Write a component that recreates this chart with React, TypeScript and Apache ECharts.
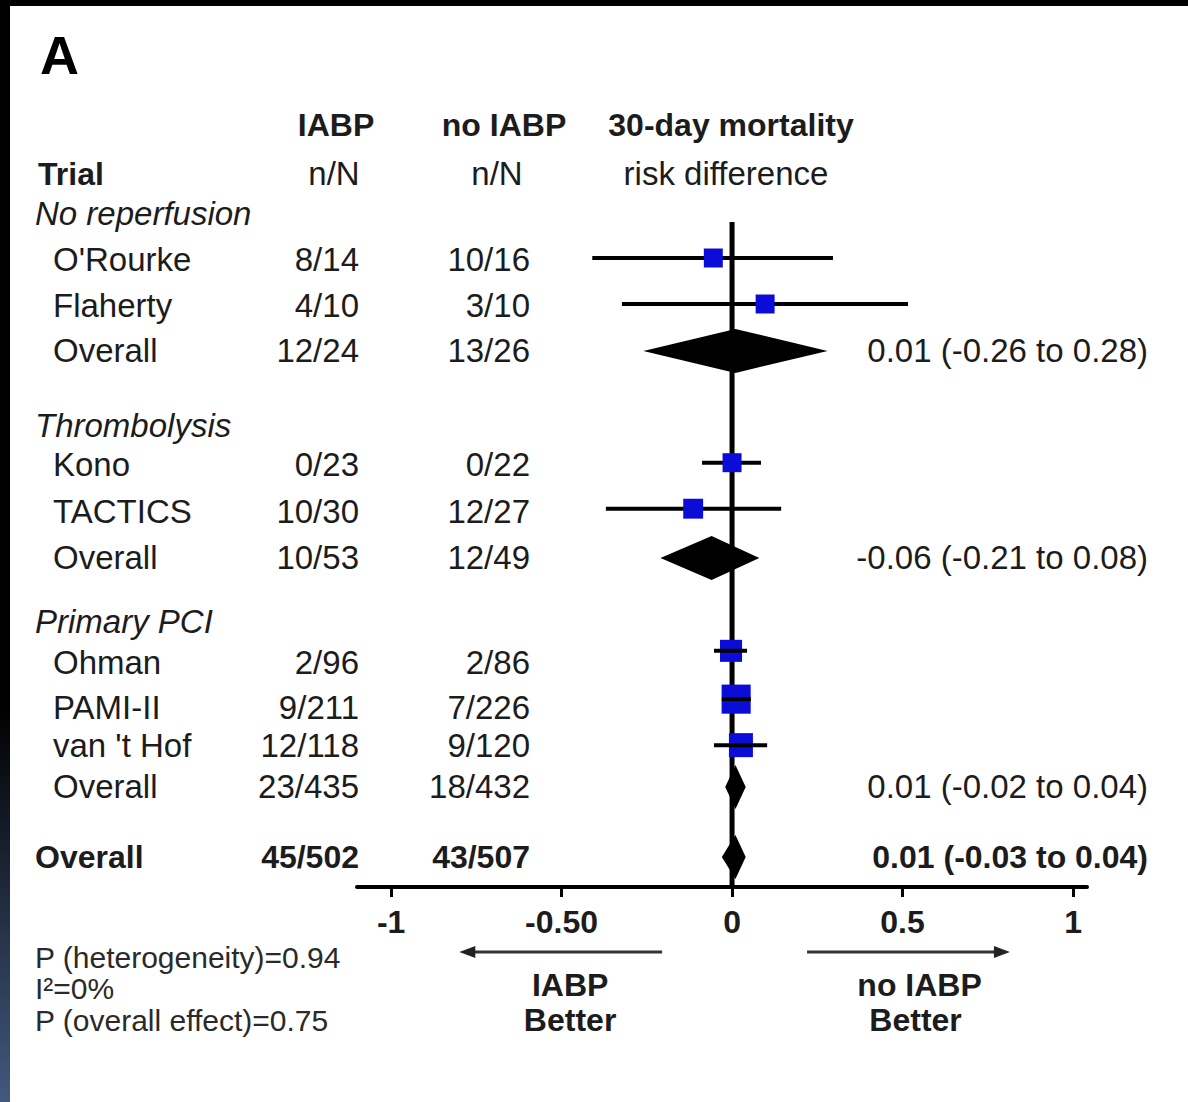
import React, { useEffect, useRef } from "react";
import * as echarts from "echarts";

const FONT = "'Liberation Sans', Arial, Helvetica, sans-serif";
const INK = "#1c1c1c";
const BLUE = "#0c0cd8";

// ---- table rows (y position in row units, label, kind, event counts) ----
const rowLabels = ["No reperfusion", "O'Rourke", "Flaherty", "Overall", "Thrombolysis", "Kono", "TACTICS", "Overall", "Primary PCI", "Ohman", "PAMI-II", "van 't Hof", "Overall", "Overall"];
const rowPos = [0.04, 1.03, 2.03, 3.02, 4.65, 5.5, 6.52, 7.52, 8.91, 9.8, 10.77, 11.6, 12.5, 14.02];
const rowKind = ["group", "study", "study", "pooled", "group", "study", "study", "pooled", "group", "study", "study", "study", "pooled", "total"];
const iabpEvents = ["", "8/14", "4/10", "12/24", "", "0/23", "10/30", "10/53", "", "2/96", "9/211", "12/118", "23/435", "45/502"];
const noIabpEvents = ["", "10/16", "3/10", "13/26", "", "0/22", "12/27", "12/49", "", "2/86", "7/226", "9/120", "18/432", "43/507"];

// ---- column headers ----
const headerTop = ["IABP", "no IABP", "30-day mortality"];
const headerSub = ["Trial", "n/N", "n/N", "risk difference"];
const headerTopPos = -1.89;
const headerSubPos = -0.83;

// ---- individual studies ----
const studyRow = [1, 2, 5.45, 6.45, 9.54, 10.59, 11.59];
const studyRD = [-0.055, 0.097, 0.0, -0.114, -0.003, 0.012, 0.026];
const studyLow = [-0.41, -0.323, -0.088, -0.37, -0.053, -0.03, -0.053];
const studyHigh = [0.296, 0.516, 0.085, 0.144, 0.044, 0.055, 0.103];
const studyWeight = [10, 10, 10, 11, 13.5, 23.5, 16];

// ---- pooled estimates ----
const pooledRow = [3.02, 7.52, 12.5, 14.02];
const pooledRD = [0.01, -0.06, 0.01, 0.01];
const pooledLow = [-0.26, -0.21, -0.02, -0.03];
const pooledHigh = [0.28, 0.08, 0.04, 0.04];
const pooledText = ["0.01 (-0.26 to 0.28)", "-0.06 (-0.21 to 0.08)", "0.01 (-0.02 to 0.04)", "0.01 (-0.03 to 0.04)"];

// ---- axis ----
const tickValues = [-1, -0.5, 0, 0.5, 1];
const tickLabels = ["-1", "-0.50", "0", "0.5", "1"];

const footnotes = ["P (heterogeneity)=0.94", "I\u00b2=0%", "P (overall effect)=0.75"];

export default function App() {
  const ref = useRef<HTMLDivElement>(null);
  useEffect(() => {
    document.body.style.margin = "0";
    const chart = echarts.init(ref.current!, null, { renderer: "svg" });

    const txt = (x: number, y: number, text: string, extra: any = {}) => ({
      type: "text",
      x,
      y,
      style: {
        text,
        fontFamily: FONT,
        fontSize: 33,
        fill: INK,
        verticalAlign: "middle",
        align: "left",
        ...extra,
      },
    });

    const option: any = {
      animation: false,
      backgroundColor: "#fff",
      grid: { left: 357, right: 101, top: 212, bottom: 215 },
      xAxis: {
        type: "value",
        min: -1.1,
        max: 1.041,
        splitLine: { show: false },
        axisLine: { show: true, onZero: false, lineStyle: { color: "#000", width: 4 } },
        axisTick: { show: true, customValues: tickValues, length: 10, lineStyle: { color: "#000", width: 3 } },
        axisLabel: {
          show: true,
          customValues: tickValues,
          formatter: (v: number) => {
            const i = tickValues.findIndex((t) => Math.abs(t - v) < 1e-9);
            return i >= 0 ? tickLabels[i] : "";
          },
          fontFamily: FONT,
          fontWeight: "bold",
          fontSize: 32,
          color: INK,
          margin: 19,
        },
      },
      yAxis: { type: "value", inverse: true, min: 0, max: 14.674, show: false },
      series: [
        {
          type: "line",
          data: [[0, 0.22], [0, 14.674]],
          symbol: "none",
          lineStyle: { color: "#000", width: 5 },
          z: 1,
        },
        {
          type: "custom",
          clip: false,
          z: 3,
          encode: { x: 0, y: 3 },
          data: studyRD.map((v, i) => [v, studyLow[i], studyHigh[i], studyRow[i], studyWeight[i]]),
          renderItem: (params: any, api: any) => {
            const y = api.value(3);
            const pE = api.coord([api.value(0), y]);
            const pLo = api.coord([api.value(1), y]);
            const pHi = api.coord([api.value(2), y]);
            const s = 6 * Math.sqrt(api.value(4));
            const line = {
              type: "line",
              shape: { x1: pLo[0], y1: pLo[1], x2: pHi[0], y2: pHi[1] },
              style: { stroke: "#000", lineWidth: 4 },
            };
            const box = {
              type: "rect",
              shape: { x: pE[0] - s / 2, y: pE[1] - s / 2, width: s, height: s },
              style: { fill: BLUE },
            };
            return { type: "group", children: s >= 21 ? [box, line] : [line, box] };
          },
        },
        {
          type: "custom",
          clip: false,
          z: 3,
          encode: { x: 0, y: 3 },
          data: pooledRD.map((v, i) => [v, pooledLow[i], pooledHigh[i], pooledRow[i], i]),
          renderItem: (params: any, api: any) => {
            const y = api.value(3);
            const idx = api.value(4);
            const c = api.coord([api.value(0), y]);
            const lo = api.coord([api.value(1), y]);
            const hi = api.coord([api.value(2), y]);
            const h = 22;
            return {
              type: "group",
              children: [
                {
                  type: "polygon",
                  shape: { points: [[lo[0], c[1]], [c[0], c[1] - h], [hi[0], c[1]], [c[0], c[1] + h]] },
                  style: { fill: "#000" },
                },
                txt(1148, c[1], pooledText[idx], {
                  align: "right",
                  fontWeight: idx === pooledRow.length - 1 ? "bold" : "normal",
                  fontSize: idx === pooledRow.length - 1 ? 32 : 33,
                }),
              ],
            };
          },
        },
        {
          type: "custom",
          clip: false,
          z: 4,
          encode: { x: 0, y: 1 },
          data: rowPos.map((p, i) => [0, p, i]),
          renderItem: (params: any, api: any) => {
            const i = api.value(2);
            const py = api.coord([0, api.value(1)])[1];
            const kind = rowKind[i];
            const isBold = kind === "total";
            const bold = isBold ? "bold" : "normal";
            const fs = isBold ? 32 : 33;
            const kids: any[] = [
              txt(kind === "group" || kind === "total" ? 35 : 53, py, rowLabels[i], {
                fontStyle: kind === "group" ? "italic" : "normal",
                fontWeight: bold,
                fontSize: fs,
              }),
            ];
            if (iabpEvents[i]) kids.push(txt(359, py, iabpEvents[i], { align: "right", fontWeight: bold, fontSize: fs }));
            if (noIabpEvents[i]) kids.push(txt(530, py, noIabpEvents[i], { align: "right", fontWeight: bold, fontSize: fs }));
            return { type: "group", children: kids };
          },
        },
        {
          type: "custom",
          clip: false,
          z: 4,
          encode: { x: 0, y: 1 },
          data: [[0, headerTopPos, 0], [0, headerSubPos, 1]],
          renderItem: (params: any, api: any) => {
            const py = api.coord([0, api.value(1)])[1];
            if (api.value(2) === 0) {
              return {
                type: "group",
                children: [
                  txt(336, py, headerTop[0], { align: "center", fontWeight: "bold", fontSize: 32 }),
                  txt(504, py, headerTop[1], { align: "center", fontWeight: "bold", fontSize: 32 }),
                  txt(731, py, headerTop[2], { align: "center", fontWeight: "bold", fontSize: 32 }),
                ],
              };
            }
            return {
              type: "group",
              children: [
                txt(38, py, headerSub[0], { fontWeight: "bold", fontSize: 32 }),
                txt(334, py, headerSub[1], { align: "center" }),
                txt(497, py, headerSub[2], { align: "center" }),
                txt(726, py, headerSub[3], { align: "center" }),
              ],
            };
          },
        },
      ],
    };

    chart.setOption(option);

    const px = (v: number) => chart.convertToPixel({ xAxisIndex: 0 }, v) as number;
    const ay = 952;
    const lTip = px(-0.8), lEnd = px(-0.205);
    const rTip = px(0.815), rEnd = px(0.22);
    const lMid = px(-0.475), rMid = px(0.55);
    const arrowStyle = { stroke: "#333", lineWidth: 3 };
    const lbl = { fontFamily: FONT, fontSize: 32, fontWeight: "bold", fill: INK, align: "center", verticalAlign: "middle" };

    chart.setOption({
      graphic: [
        { type: "rect", shape: { x: 0, y: 0, width: 1188, height: 6 }, style: { fill: "#000" }, z: 10 },
        {
          type: "rect",
          shape: { x: 0, y: 0, width: 10, height: 1102 },
          style: {
            fill: new echarts.graphic.LinearGradient(0, 0, 0, 1, [
              { offset: 0, color: "#000" },
              { offset: 0.64, color: "#000" },
              { offset: 1, color: "#42587e" },
            ]),
          },
          z: 10,
        },
        { type: "text", x: 40, y: 55, style: { text: "A", fontFamily: FONT, fontSize: 54, fontWeight: "bold", fill: "#000", verticalAlign: "middle" } },
        ...footnotes.map((t, i) => ({
          type: "text",
          x: 35,
          y: 957 + i * 31.5,
          style: { text: t, fontFamily: FONT, fontSize: 30, fill: "#2a2a2a", verticalAlign: "middle" },
        })),
        { type: "line", shape: { x1: lTip + 8, y1: ay, x2: lEnd, y2: ay }, style: arrowStyle },
        { type: "polygon", shape: { points: [[lTip, ay], [lTip + 16, ay - 6], [lTip + 16, ay + 6]] }, style: { fill: "#222" } },
        { type: "line", shape: { x1: rEnd, y1: ay, x2: rTip - 8, y2: ay }, style: arrowStyle },
        { type: "polygon", shape: { points: [[rTip, ay], [rTip - 16, ay - 6], [rTip - 16, ay + 6]] }, style: { fill: "#222" } },
        { type: "text", x: lMid, y: 985, style: { text: "IABP", ...lbl } },
        { type: "text", x: lMid, y: 1020, style: { text: "Better", ...lbl } },
        { type: "text", x: rMid, y: 985, style: { text: "no IABP", ...lbl } },
        { type: "text", x: rMid - 4, y: 1020, style: { text: "Better", ...lbl } },
      ],
    });

    return () => chart.dispose();
  }, []);
  return <div ref={ref} style={{ width: 1188, height: 1102, background: "#fff" }} />;
}
